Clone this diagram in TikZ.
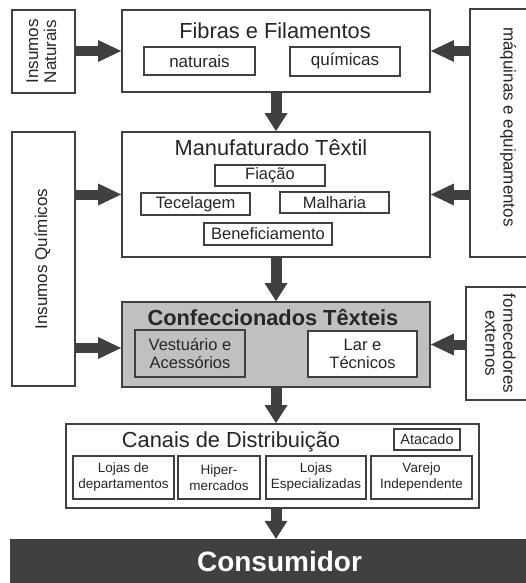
\documentclass[tikz,border=0pt]{standalone}
\usepackage{fontspec}
\usepackage{graphicx}
\setmainfont{Liberation Sans}
\usetikzlibrary{arrows.meta,calc}
\definecolor{dk}{HTML}{404040}
\definecolor{txt}{HTML}{262626}
\definecolor{confg}{HTML}{C0C0C0}
\newcommand\fsz[2]{\fontsize{#1}{#2}\selectfont}
\newcommand\rl[2]{\rotatebox{#1}{\begin{tabular}{@{}c@{}}#2\end{tabular}}}
\begin{document}
\begin{tikzpicture}[x=1pt,y=-1pt,
  box/.style={draw=dk,line width=1.8pt,fill=white,inner sep=0pt,text=txt,align=center},
  ttl/.style={inner sep=0pt,text=txt,font=\fsz{21.8}{24}},
  lvA/.style={font=\fsz{17}{18}},
  lvB/.style={font=\fsz{16.5}{17.7}},
  lvC/.style={font=\fsz{13.5}{16}},
  harr/.style={draw=dk,line width=10pt,-{Triangle[length=23pt,width=22pt,line width=0pt]}},
  varr/.style={draw=dk,line width=11pt,-{Triangle[length=18pt,width=23pt,line width=0pt]}}]
\clip (0,0) rectangle (526,583);
% left inputs
\node[box,lvA,minimum width=63pt,minimum height=83pt] (nat) at (43.5,51.5) {\rl{90}{Insumos\\Naturais}};
\node[box,lvA,minimum width=63pt,minimum height=254pt] (quim) at (43.5,259) {\rl{90}{Insumos Químicos}};
% right inputs
\node[box,lvA,minimum width=76pt,minimum height=248pt] (maq) at (508,133) {\rotatebox{-90}{máquinas e equipamentos\kern12pt}};
\node[box,lvA,minimum width=64pt,minimum height=113pt] (forn) at (498,343.5) {\rl{-90}{fornecedores\\externos}};
% Fibras
\node[box,minimum width=308pt,minimum height=82pt] (fib) at (276,51) {};
\node[ttl,anchor=base] (fibT) at (275,39) {Fibras e Filamentos};
\node[box,lvA,minimum width=111pt,minimum height=28pt] (nt) at (199.5,61) {naturais};
\node[box,lvA,minimum width=110pt,minimum height=29pt] (qm) at (345,61.5) {químicas};
% Manufaturado
\node[box,minimum width=308pt,minimum height=125pt] (manuf) at (276,194.5) {};
\node[ttl,anchor=base] (manufT) at (271,155) {Manufaturado Têxtil};
\node[box,lvB,minimum width=110pt,minimum height=21pt] (fia) at (270,175.5) {Fiação};
\node[box,lvB,minimum width=109pt,minimum height=22pt] (tec) at (195.5,204) {Tecelagem};
\node[box,lvB,minimum width=109pt,minimum height=21pt] (mal) at (334.5,202.5) {Malharia};
\node[box,lvB,minimum width=128pt,minimum height=22pt] (ben) at (268,234) {Beneficiamento};
% Confeccionados
\node[box,fill=confg,minimum width=308pt,minimum height=85pt] (confec) at (276,344.5) {};
\node[ttl,anchor=base,font=\bfseries\fsz{21.8}{24}] (confecT) at (273,325) {Confeccionados Têxteis};
\node[box,lvB,fill=confg,minimum width=110pt,minimum height=47pt] (vest) at (190,353.5) {Vestuário e\\Acessórios};
\node[box,lvB,minimum width=109pt,minimum height=46pt] (lar) at (362.5,354) {Lar e\\Técnicos};
% Canais
\node[box,minimum width=413pt,minimum height=84pt] (canais) at (272.5,466) {};
\node[ttl,anchor=base] (canaisT) at (231,447) {Canais de Distribuição};
\node[box,font=\fsz{14.5}{16},minimum width=66pt,minimum height=21pt] (ata) at (427,439.5) {Atacado};
\node[box,lvC,minimum width=101pt,minimum height=43pt] (ldep) at (123.5,477.5) {Lojas de\\departamentos};
\node[box,lvC,minimum width=82pt,minimum height=43pt] (hip) at (219,477.5) {Hiper-\\mercados};
\node[box,lvC,minimum width=100pt,minimum height=43pt] (lesp) at (316,477.5) {Lojas\\Especializadas};
\node[box,lvC,minimum width=101pt,minimum height=43pt] (var) at (421.5,477.5) {Varejo\\Independente};
% Consumidor
\node[fill=dk,inner sep=0pt,minimum width=539pt,minimum height=44pt,text=white,font=\bfseries\fsz{28}{30}] (cons) at (279.5,561) {Consumidor};
% arrows
\coordinate (qc) at ($(confec.west)+(0,3.5)$);
\draw[harr] (nat.east |- fib.west) -- (fib.west);
\draw[harr] (maq.west |- fib.east) -- (fib.east);
\draw[harr] (quim.east |- manuf.west) -- (manuf.west);
\draw[harr] (maq.west |- manuf.east) -- (manuf.east);
\draw[harr] (quim.east |- qc) -- (qc);
\draw[harr] (forn.west |- confec.east) -- (confec.east);
\draw[varr] (fib.south) -- (manuf.north);
\draw[varr] (manuf.south) -- (confec.north);
\draw[varr] (confec.south) -- (confec.south |- canais.north);
\draw[varr] (confec.south |- canais.south) -- (confec.south |- cons.north);
\end{tikzpicture}
\end{document}
